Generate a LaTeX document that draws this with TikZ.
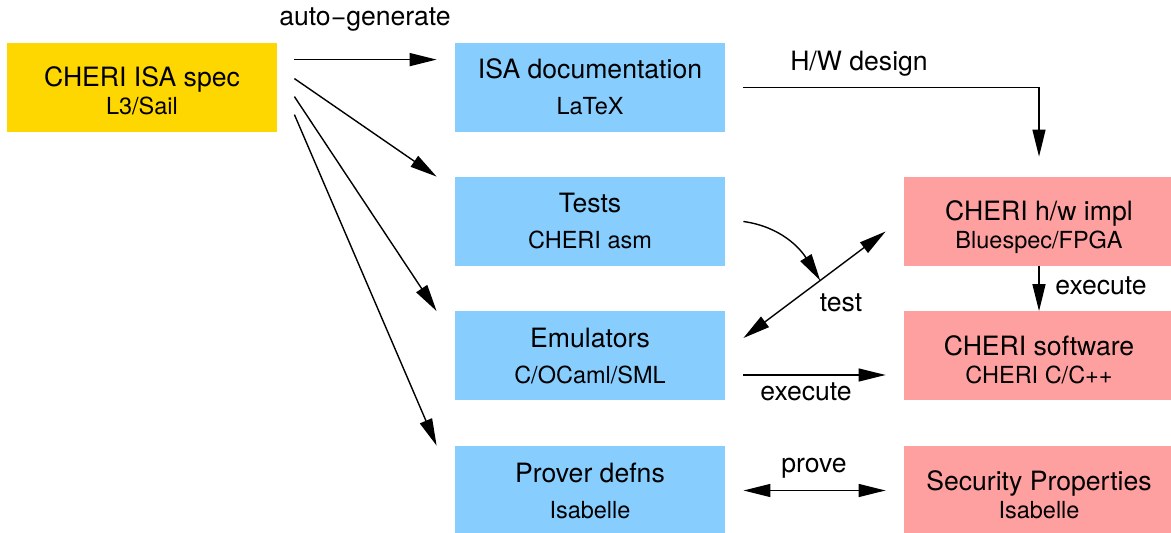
\documentclass[tikz,border=0pt]{standalone}
\usepackage{fontspec}
\setmainfont{TeX Gyre Heros}
\usetikzlibrary{arrows.meta,calc}
\definecolor{specyellow}{RGB}{255,215,0}
\definecolor{docblue}{RGB}{135,206,255}
\definecolor{implpink}{RGB}{255,160,160}
% second line of a box, smaller
\newcommand{\subline}[1]{{\fontsize{11.75}{14}\selectfont\rule[-3pt]{0pt}{3pt}#1}}
\newcommand{\tightlines}[2]{\rule{0pt}{16.5pt}#1\\\subline{#2}}
\newcommand{\looselines}[2]{\rule{0pt}{12.5pt}#1\\[4pt]\subline{#2}}
\begin{document}
\begin{tikzpicture}[x=0.5pt,y=0.5pt,font=\fontsize{13.3}{14}\selectfont,
		>={Triangle[length=13.5pt,width=6.5pt]}]
		\tikzstyle{box}=[inner sep=0pt,minimum width=135pt,minimum height=44.5pt,align=center]
		\tikzstyle{specbox}=[box,fill=specyellow]
		\tikzstyle{docbox}=[box,fill=docblue]
		\tikzstyle{implbox}=[box,fill=implpink]
		\tikzstyle{arrow}=[draw,line width=0.7pt,->]
		\tikzstyle{dblarrow}=[draw,line width=0.7pt,<->]
		\useasboundingbox (0,0) rectangle (1171,-533);
		
		\node[specbox] (spec) at (142,-87.5) {\tightlines{CHERI ISA spec}{L3/Sail}};
		\node[docbox] (isadoc) at (590,-87.5) {\looselines{ISA documentation}{LaTeX}};
		\node[docbox] (tests) at (590,-221.5) {\looselines{Tests}{CHERI asm}};
		\node[docbox] (emul) at (590,-356) {\looselines{Emulators}{C/OCaml/SML}};
		\node[docbox] (prover) at (590,-490.5) {\looselines{Prover defns}{Isabelle}};
		\node[implbox] (hwimpl) at (1039,-221.5) {\tightlines{CHERI h/w impl}{Bluespec/FPGA}};
		\node[implbox] (software) at (1039,-356) {\tightlines{CHERI software}{CHERI C/C++}};
		\node[implbox] (secprop) at (1039,-490.5) {\tightlines{Security Properties}{Isabelle}};
		
		% from the spec
		\path[arrow] ($(spec.north east)+(17,-17)$) -- ($(isadoc.north west)+(-18,-17)$);
		\node (autogen) at (365,-20) {auto−generate};
		\foreach \dst/\dy in {tests/36,emul/54,prover/72}
			\path[arrow] ($(spec.north east)+(17,-\dy)$) -- ($(\dst.north west)+(-18,0)$);
		
		\path[arrow] ($(isadoc.east)+(18,0)$) -| ($(hwimpl.north)+(0,20)$);
		\node (hwdesign) at (859,-64) {H/W design};
		
		\path[dblarrow] ($(emul.east)+(18,18)$) -- coordinate[pos=0.54] (testhit) ($(hwimpl.west)+(-18,-10)$);
		\path[arrow] ($(tests.east)+(18,0)$) to[out=-8,in=122] (testhit);
		\node (testlbl) at (841,-303) {test};
		
		\path[arrow] (hwimpl) -- (software);
		\node (execv) at (1101,-286) {execute};
		\path[arrow] ($(emul.east)+(18,-19)$) -- ($(software.west)+(-18,-19)$);
		\node (exech) at (806,-392) {execute};
		
		\path[dblarrow] ($(prover.east)+(18,0)$) -- ($(secprop.west)+(-18,0)$);
		\node (provelbl) at (814,-468) {prove};
		
		\end{tikzpicture}
\end{document}
